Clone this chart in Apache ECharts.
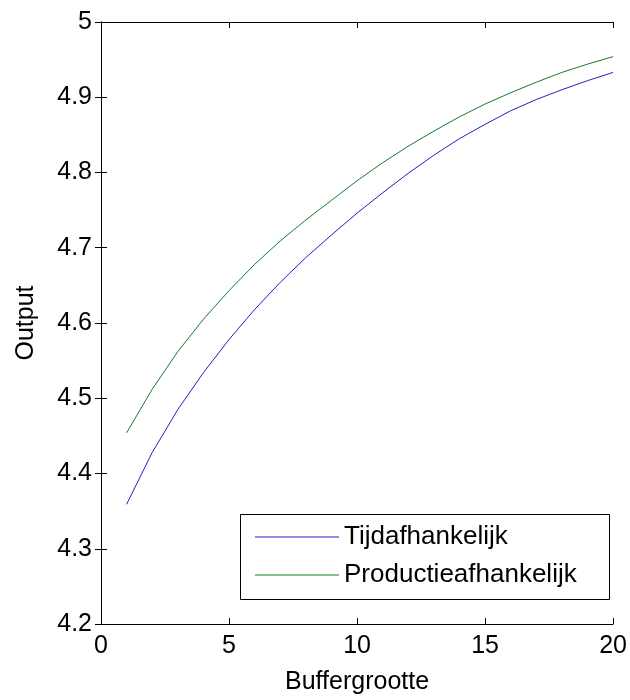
<!DOCTYPE html>
<html>
<head>
<meta charset="utf-8">
<script src="https://cdn.jsdelivr.net/npm/echarts@6/dist/echarts.min.js"></script>
<style>html,body{margin:0;padding:0;background:#fff;}#c{width:630px;height:700px;}</style>
</head>
<body>
<div id="c"></div>
<script>
const bufferSizes = [1,2,3,4,5,6,7,8,9,10,11,12,13,14,15,16,17,18,19,20];
const tijdafhankelijk = [4.359,4.428,4.485,4.534,4.578,4.618,4.654,4.687,4.717,4.746,4.773,4.799,4.823,4.845,4.864,4.882,4.897,4.910,4.922,4.933];
const productieafhankelijk = [4.454,4.512,4.562,4.605,4.643,4.678,4.709,4.737,4.763,4.789,4.813,4.835,4.855,4.874,4.891,4.906,4.920,4.933,4.944,4.954];
const seriesNames = ['Tijdafhankelijk','Productieafhankelijk'];
const xTicks = {min:0, max:20, interval:5};
const yTicks = {min:4.2, max:5, interval:0.1};

const font = 'Liberation Sans, Arial, sans-serif';
const chart = echarts.init(document.getElementById('c'));
const axisLineStyle = {lineStyle:{color:'#000', width:1}};
const tick = {inside:true, length:6, lineStyle:{color:'#000', width:1}};
const lbl = {color:'#000', fontSize:25, fontFamily:font};
chart.setOption({
  animation:false,
  backgroundColor:'#fff',
  grid:{left:101, right:13, top:22, bottom:75},
  xAxis:[
    {type:'value', min:xTicks.min, max:xTicks.max, interval:xTicks.interval,
     name:'Buffergrootte', nameLocation:'middle', nameGap:46,
     nameTextStyle:{color:'#000', fontSize:25, fontFamily:font},
     axisLine:axisLineStyle, axisTick:tick, splitLine:{show:false},
     axisLabel:Object.assign({margin:10}, lbl)},
    {type:'value', position:'top', min:xTicks.min, max:xTicks.max, interval:xTicks.interval,
     axisLine:axisLineStyle, axisTick:tick, splitLine:{show:false}, axisLabel:{show:false}}
  ],
  yAxis:[
    {type:'value', min:yTicks.min, max:yTicks.max, interval:yTicks.interval,
     name:'Output', nameLocation:'middle', nameGap:62,
     nameTextStyle:{color:'#000', fontSize:25, fontFamily:font},
     axisLine:Object.assign({show:true}, axisLineStyle), axisTick:tick, splitLine:{show:false},
     axisLabel:Object.assign({margin:9}, lbl)},
    {type:'value', position:'right', min:yTicks.min, max:yTicks.max, interval:yTicks.interval,
     axisLine:Object.assign({show:true}, axisLineStyle), axisTick:tick, splitLine:{show:false}, axisLabel:{show:false}}
  ],
  legend:{
    orient:'vertical', left:255, top:524, padding:0,
    icon:'rect', itemWidth:84, itemHeight:1, itemGap:12,
    textStyle:{color:'#000', fontSize:26, fontFamily:font, lineHeight:26},
    data:seriesNames
  },
  graphic:[{type:'rect', left:238, top:512, shape:{width:369, height:85},
    style:{fill:null, stroke:'#000', lineWidth:1}, z:5}],
  series:[
    {name:seriesNames[0], type:'line', showSymbol:false, symbol:'none',
     lineStyle:{color:'#2020c8', width:1}, itemStyle:{color:'#2020c8'},
     data:bufferSizes.map((x,i)=>[x, tijdafhankelijk[i]])},
    {name:seriesNames[1], type:'line', showSymbol:false, symbol:'none',
     lineStyle:{color:'#157a30', width:1}, itemStyle:{color:'#157a30'},
     data:bufferSizes.map((x,i)=>[x, productieafhankelijk[i]])}
  ]
});
</script>
</body>
</html>
